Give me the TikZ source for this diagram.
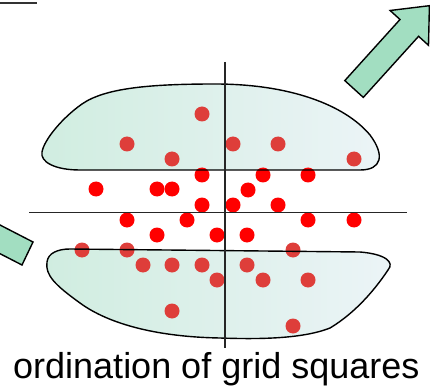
\documentclass[tikz,border=0pt]{standalone}
\usepackage{fontspec}
\setmainfont{Liberation Sans}
\usepackage{xcolor}
\definecolor{dotred}{RGB}{255,0,0}
\definecolor{dotmuted}{RGB}{222,62,58}
\definecolor{blobleft}{RGB}{208,237,224}
\definecolor{blobright}{RGB}{236,244,247}
\definecolor{arrowmint}{RGB}{162,222,193}
\usepackage{tikz}
\usetikzlibrary{positioning,calc}
\tikzset{
  dotout/.style  ={circle,fill=dotred,inner sep=0pt,minimum size=15pt},
  dotin/.style   ={circle,fill=dotmuted,inner sep=0pt,minimum size=15pt},
  blobfill/.style={left color=blobleft,right color=blobright,draw=none},
  blobline/.style={draw=black,line width=1.4pt},
  axisline/.style={draw=black!85,line width=1.2pt},
  bigarrow/.style={fill=arrowmint,draw=black,line width=1.4pt,line join=miter},
}
\newcommand{\upperblob}{(80,170) .. controls (55,170) and (40,162) .. (42,152)
  .. controls (44,140) and (62,118) .. (82,104) .. controls (105,88) and (150,84) .. (215,84)
  .. controls (290,84) and (345,105) .. (370,135) .. controls (385,155) and (382,170) .. (360,170)
  -- cycle}
\newcommand{\lowerblob}{(70,249) -- (360,252) .. controls (385,254) and (395,262) .. (388,270)
  .. controls (380,282) and (360,310) .. (330,328) .. controls (300,340) and (250,339) .. (220,338)
  .. controls (160,337) and (110,325) .. (80,303) .. controls (55,285) and (45,275) .. (47,262)
  .. controls (48,253) and (58,249) .. (70,249) -- cycle}

\begin{document}
\begin{tikzpicture}[x=1pt,y=-1pt]
  \clip (0,0) rectangle (430,387);

  % ---- clusters (fill) -------------------------------------------------
  \path[blobfill] \upperblob;
  \path[blobfill] \lowerblob;

  % ---- grid squares ----------------------------------------------------
  \foreach \px/\py [count=\i] in {202/114,127/144,172/159,233/144,278/144,354/159,
      82/250,127/250,293/250,143/265,172/265,202/265,247/265,
      217/280,263/280,308/280,172/311,293/326}
    \node[dotin] (in\i) at (\px,\py) {};
  \foreach \px/\py [count=\i] in {96/189,157/189,172/189,202/175,263/175,308/175,
      248/190,202/205,233/205,278/205,127/220,187/220,308/220,354/220,
      157/235,217/235,247/235}
    \node[dotout] (out\i) at (\px,\py) {};

  % ---- clusters (outline) ----------------------------------------------
  \path[blobline] \upperblob;
  \path[blobline] \lowerblob;

  % ---- ordination axes -------------------------------------------------
  \coordinate (ax1top) at (225,62);
  \coordinate (ax1bot) at (225,348);
  \coordinate (ax2lft) at (29,212.5);
  \coordinate (ax2rgt) at (407,212.5);
  \draw[axisline] (ax1top) -- (ax1bot);
  \draw[axisline] (ax2lft) -- (ax2rgt);

  % ---- block arrows ----------------------------------------------------
  \draw[bigarrow] (344.8,80.6) -- (400,19.5) -- (390.1,10.5) -- (429.4,5.7)
    -- (428.5,45.3) -- (418.6,36.3) -- (363.3,97.4) -- cycle;
  \draw[bigarrow] (-20,214.7) -- (33,242) -- (22,265) -- (-20,243.4) -- cycle;

  % ---- fragment at top left and caption --------------------------------
  \draw[black!80,line width=2.5pt] (0,3) -- (37,3);
  \node[anchor=base west,inner sep=0pt,font=\fontsize{36}{40}\selectfont] (cap)
    at (13,378.5) {ordination of grid squares};
\end{tikzpicture}
\end{document}
